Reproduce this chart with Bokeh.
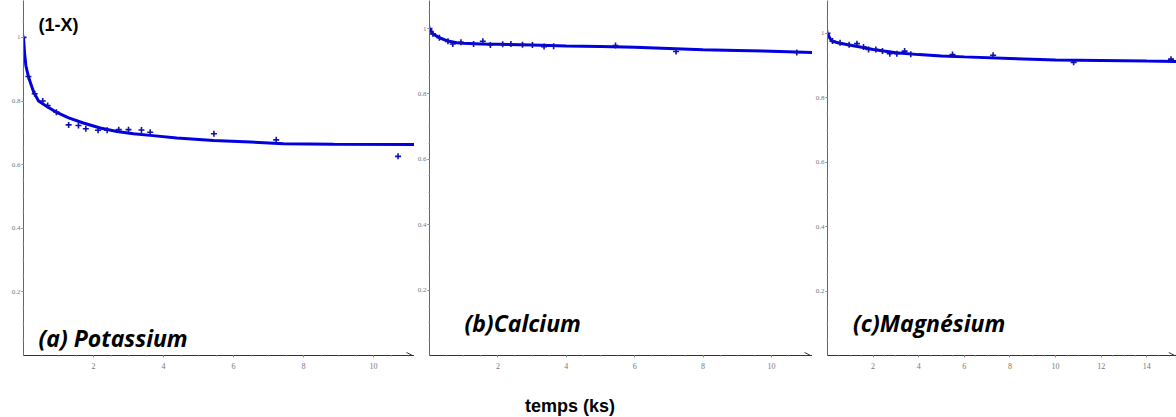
from bokeh.plotting import figure
from bokeh.layouts import row, column
from bokeh.models import Label, Arrow, OpenHead, FixedTicker, Div
from bokeh.embed import file_html
from bokeh.resources import INLINE

# ---------------- data ----------------
# (a) Potassium
k_t = [0.0, 0.14, 0.32, 0.55, 0.69, 0.94, 1.29, 1.57, 1.78, 2.13, 2.39, 2.72, 3.0, 3.37, 3.62, 5.44, 7.22, 10.7]
k_y = [1.0, 0.877, 0.823, 0.80, 0.786, 0.765, 0.725, 0.723, 0.713, 0.708, 0.708, 0.71, 0.71, 0.709, 0.702, 0.697, 0.678, 0.626]
k_fit_t = [0.0, 0.03, 0.07, 0.14, 0.22, 0.29, 0.43, 0.67, 0.95, 1.29, 1.71, 2.19, 2.67, 3.14, 3.62, 4.38, 5.43, 6.48, 7.43, 8.86, 11.17]
k_fit_y = [1.0, 0.95, 0.91, 0.877, 0.85, 0.828, 0.80, 0.783, 0.764, 0.747, 0.731, 0.715, 0.704, 0.697, 0.692, 0.684, 0.676, 0.671, 0.666, 0.664, 0.663]

# (b) Calcium
ca_t = [0.0, 0.1, 0.29, 0.54, 0.68, 0.92, 1.29, 1.56, 1.78, 2.14, 2.38, 2.72, 3.01, 3.35, 3.63, 5.44, 7.21, 10.74]
ca_y = [1.0, 0.984, 0.972, 0.961, 0.953, 0.958, 0.953, 0.961, 0.950, 0.952, 0.953, 0.951, 0.950, 0.945, 0.946, 0.948, 0.930, 0.927]
ca_fit_t = [0.0, 0.1, 0.29, 0.54, 0.8, 1.0, 1.5, 2.0, 3.0, 4.0, 5.0, 6.0, 7.0, 8.0, 9.0, 10.0, 11.2]
ca_fit_y = [1.0, 0.984, 0.972, 0.962, 0.957, 0.955, 0.953, 0.952, 0.950, 0.947, 0.945, 0.943, 0.939, 0.935, 0.933, 0.931, 0.927]

# (c) Magnésium
mg_t = [0.0, 0.22, 0.55, 0.95, 1.29, 1.58, 1.80, 2.12, 2.41, 2.73, 3.04, 3.38, 3.65, 5.48, 7.26, 10.79, 15.06]
mg_y = [1.0, 0.976, 0.971, 0.965, 0.968, 0.958, 0.950, 0.950, 0.945, 0.937, 0.937, 0.945, 0.935, 0.934, 0.932, 0.910, 0.920]
mg_fit_t = [0.0, 0.1, 0.2, 0.5, 1.0, 1.5, 2.0, 3.0, 4.0, 5.0, 6.0, 8.0, 10.0, 12.0, 14.0, 15.3]
mg_fit_y = [1.0, 0.985, 0.976, 0.970, 0.963, 0.957, 0.950, 0.940, 0.934, 0.930, 0.927, 0.922, 0.917, 0.916, 0.914, 0.913]

y_ticks = [0.2, 0.4, 0.6, 0.8, 1.0]
titles = ["(a) Potassium", "(b)Calcium", "(c)Magnésium"]
x_label = "temps (ks)"
y_label = "(1-X)"

LINE = "#0000e0"
MARK = "#1010b0"
H = 395
BOTTOM = 40


def make(width, left, x_end, y_end, xticks, t, y, ft, fy):
    p = figure(width=width, height=H, x_range=(0, x_end), y_range=(0, y_end),
               output_backend="svg", toolbar_location=None,
               min_border_left=left, min_border_right=0, min_border_top=0,
               min_border_bottom=BOTTOM)
    p.xgrid.visible = False
    p.ygrid.visible = False
    p.outline_line_color = None
    p.background_fill_color = "white"
    p.border_fill_color = "white"
    p.line(ft, fy, line_color=LINE, line_width=3)
    p.scatter(t, y, marker="cross", size=6, line_width=1.6, color=MARK)
    ya = p.yaxis[0]
    ya.ticker = FixedTicker(ticks=y_ticks, minor_ticks=[0.05 * i for i in range(1, 22)])
    ya.axis_line_color = "#666666"
    ya.major_tick_out = 2
    ya.major_tick_in = 0
    ya.major_tick_line_color = "#666666"
    ya.minor_tick_out = 1
    ya.minor_tick_in = 0
    ya.minor_tick_line_color = "#aaaaaa"
    ya.major_label_standoff = 1
    ya.major_label_text_font = "Liberation Serif"
    ya.major_label_text_font_size = "7px"
    ya.major_label_text_color = "#777777"
    xa = p.xaxis[0]
    xa.ticker = FixedTicker(ticks=xticks, minor_ticks=[0.5 * i for i in range(1, 32)])
    xa.axis_line_color = "#333333"
    xa.major_tick_out = 2
    xa.major_tick_in = 0
    xa.major_tick_line_color = "#777777"
    xa.minor_tick_out = 1
    xa.minor_tick_in = 0
    xa.minor_tick_line_color = "#aaaaaa"
    xa.major_label_standoff = 5
    xa.major_label_text_font = "Liberation Serif"
    xa.major_label_text_font_size = "8px"
    xa.major_label_text_color = "#777777"
    p.add_layout(Arrow(end=OpenHead(size=6, line_width=1, line_color="#333333"),
                       line_color="#333333", line_width=1,
                       x_start=x_end * 0.97, y_start=0, x_end=x_end * 0.995, y_end=0))
    return p


pa = make(414, 23, 11.17, 1.116, [2, 4, 6, 8, 10], k_t, k_y, k_fit_t, k_fit_y)
pb = make(398, 14, 11.2, 1.086, [2, 4, 6, 8, 10], ca_t, ca_y, ca_fit_t, ca_fit_y)
pc = make(364, 15, 15.3, 1.102, [2, 4, 6, 8, 10, 12, 14], mg_t, mg_y, mg_fit_t, mg_fit_y)

TF = "Open Sans"
pa.add_layout(Label(x=0.43, y=1.038, text=y_label, text_font="Liberation Sans",
                    text_font_style="bold", text_font_size="18px",
                    text_baseline="middle", text_color="black"))
pa.add_layout(Label(x=0.43, y=0.055, text=titles[0], text_font=TF,
                    text_font_style="bold italic", text_font_size="23px",
                    text_baseline="middle", text_color="black"))
pb.add_layout(Label(x=1.02, y=0.10, text=titles[1], text_font=TF,
                    text_font_style="bold italic", text_font_size="23px",
                    text_baseline="middle", text_color="black"))
pc.add_layout(Label(x=1.12, y=0.10, text=titles[2], text_font=TF,
                    text_font_style="bold italic", text_font_size="23px",
                    text_baseline="middle", text_color="black"))

xlab = Div(text=x_label, width=140, height=22, margin=(0, 0, 0, 525),
           styles={"font-family": "Liberation Sans", "font-weight": "bold",
                   "font-size": "18px", "line-height": "22px", "color": "black",
                   "white-space": "nowrap"})

layout = column(row(pa, pb, pc, spacing=0), xlab, spacing=0)
open("out.html", "w").write(file_html(layout, INLINE))
